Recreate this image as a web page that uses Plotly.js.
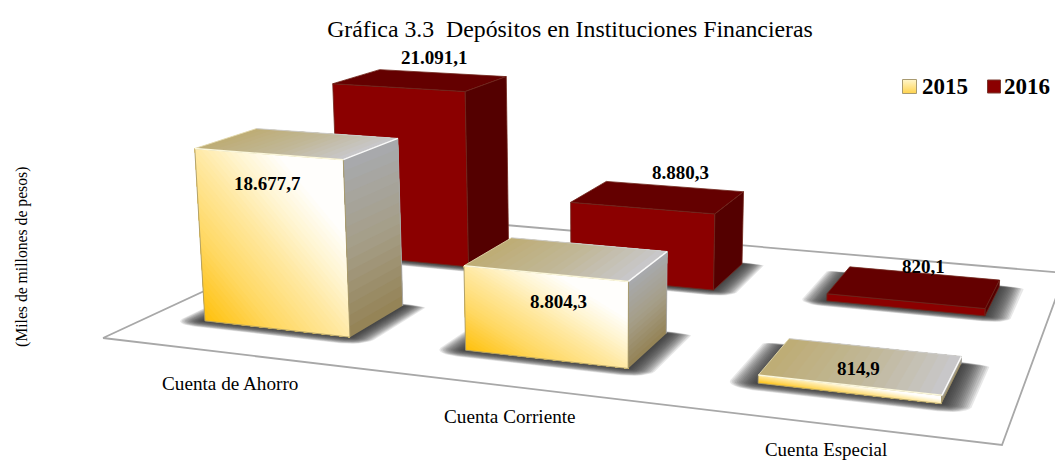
<!DOCTYPE html>
<html>
<head>
<meta charset="utf-8">
<script src="https://cdn.plot.ly/plotly-3.0.1.min.js"></script>
<style>html,body{margin:0;padding:0;background:#fff;overflow:hidden}</style>
</head>
<body>
<div id="chart" style="width:1055px;height:462px"></div>
<script>
// ---- data ----
var categories = ['Cuenta de Ahorro', 'Cuenta Corriente', 'Cuenta Especial'];
var values2015 = [18677.7, 8804.3, 814.9];
var values2016 = [21091.1, 8880.3, 820.1];
var labels2015 = ['18.677,7', '8.804,3', '814,9'];
var labels2016 = ['21.091,1', '8.880,3', '820,1'];
var seriesNames = ['2015', '2016'];

// ---- perspective of the floor (unit square -> picture axes), fitted to the picture ----
var G = -0.16868, H = 0.31071;
var A = 729.98, B = 383.27, C = 103, D = 31.94, E = -58.16, F = 338;
var VZX = 600, VZY = 7000, K = 1.392e-6;
function project(u, v, val) {
  var t = K * val;
  var w = G * u + H * v + 1 - t;
  return [(A * u + B * v + C - t * VZX) / w, (D * u + E * v + F - t * VZY) / w];
}

var BAR_W = 0.19, BAR_D = 0.205;
var traces = [];

function rgb(c) { return 'rgb(' + c.map(Math.round).join(',') + ')'; }
function ramp(stops, p) {
  p = Math.max(0, Math.min(1, p));
  for (var i = 1; i < stops.length; i++) {
    if (p <= stops[i][0]) {
      var a = stops[i - 1], b = stops[i], f = (p - a[0]) / (b[0] - a[0]);
      return [0, 1, 2].map(function (k) { return a[1][k] + (b[1][k] - a[1][k]) * f; });
    }
  }
  return stops[stops.length - 1][1];
}
function poly(pts, fill, line, lw) {
  var xs = pts.map(function (p) { return p[0]; }), ys = pts.map(function (p) { return p[1]; });
  xs.push(xs[0]); ys.push(ys[0]);
  traces.push({ type: 'scatter', mode: 'lines', x: xs, y: ys, fill: fill ? 'toself' : 'none',
    fillcolor: fill || 'rgba(0,0,0,0)', line: { color: line || 'rgba(0,0,0,0)', width: line ? (lw || 1) : 0 },
    hoverinfo: 'skip', showlegend: false });
}
function edge(p, q, color, lw) {
  traces.push({ type: 'scatter', mode: 'lines', x: [p[0], q[0]], y: [p[1], q[1]],
    line: { color: color, width: lw }, hoverinfo: 'skip', showlegend: false });
}
// Keep the part of the unit square where al*s + be*r >= lim (half-plane clip).
function clipSquare(al, be, lim) {
  var sq = [[0, 0], [1, 0], [1, 1], [0, 1]], out = [];
  for (var i = 0; i < 4; i++) {
    var p = sq[i], q = sq[(i + 1) % 4];
    var dp = al * p[0] + be * p[1] - lim, dq = al * q[0] + be * q[1] - lim;
    if (dp >= 0) out.push(p);
    if ((dp >= 0) !== (dq >= 0)) {
      var f = dp / (dp - dq);
      out.push([p[0] + (q[0] - p[0]) * f, p[1] + (q[1] - p[1]) * f]);
    }
  }
  return out;
}
// A face painted as overlapping bands along al*s + be*r, each band drawn over the last.
function shaded(face, al, be, stops, levels) {
  for (var l = 0; l < levels; l++) {
    var lim = l / levels, pts = clipSquare(al, be, lim);
    if (pts.length < 3) continue;
    poly(pts.map(function (p) { return face(p[0], p[1]); }), rgb(ramp(stops, (l + 0.5) / levels)));
  }
}
function shadow(u0, v0) {
  var n = 16, ARC = 6;
  for (var i = n; i >= 1; i--) {
    var e = i / n, ru = 0.03 * e, rf = 0.036 * e, rb = 0.012 * e, pts = [];
    var cs = [[u0 + BAR_W, v0, 1, -1, rf], [u0 + BAR_W, v0 + BAR_D, 1, 1, rb], [u0, v0 + BAR_D, -1, 1, rb], [u0, v0, -1, -1, rf]];
    cs.forEach(function (c, idx) {
      for (var a = 0; a <= ARC; a++) {
        var th = (a / ARC) * Math.PI / 2;
        var cu = (idx % 2 === 1) ? Math.cos(th) : Math.sin(th);
        var cv = (idx % 2 === 1) ? Math.sin(th) : Math.cos(th);
        pts.push(project(c[0] + c[2] * ru * cu, c[1] + c[3] * c[4] * cv, 0));
      }
    });
    poly(pts, 'rgba(40,40,40,0.115)');
  }
}
var frontStops = [[0, [255, 192, 10]], [0.3, [255, 215, 95]], [0.6, [255, 232, 160]], [0.8, [255, 245, 210]], [1, [255, 255, 255]]];
var topStops = [[0, [190, 172, 116]], [0.5, [192, 183, 150]], [1, [200, 200, 204]]];
var sideStops = [[0, [148, 130, 84]], [0.5, [165, 158, 136]], [1, [168, 170, 174]]];

function goldBar(cat, val) {
  var u0 = (cat + 0.5) / 3 - BAR_W / 2, v0 = 0.25 - BAR_D / 2, u1 = u0 + BAR_W, v1 = v0 + BAR_D;
  shaded(function (s, r) { return project(u0 + s * BAR_W, v0, val * r); }, 1 / 1.6, 1 / 1.6, frontStops, 40);
  shaded(function (s, r) { return project(u0 + s * BAR_W, v0 + r * BAR_D, val); }, 1, 0, topStops, 16);
  shaded(function (s, r) { return project(u1, v0 + s * BAR_D, val * r); }, 0, 1, sideStops, 16);
  poly([project(u0, v0, 0), project(u1, v0, 0), project(u1, v0, val), project(u0, v0, val)], null, 'rgba(170,155,105,0.9)', 1);
  edge(project(u0, v0, val), project(u0, v1, val), 'rgba(225,215,170,0.9)', 1);
  edge(project(u0, v1, val), project(u1, v1, val), 'rgba(205,205,205,0.9)', 1);
  edge(project(u1, v1, val), project(u1, v1, 0), 'rgba(170,170,170,0.9)', 1);
  edge(project(u0, v0, val), project(u1, v0, val), 'rgba(255,252,225,0.95)', 1.5);
  edge(project(u1, v0, val), project(u1, v1, val), 'rgba(255,255,255,0.95)', 1.5);
}
function redBar(cat, val) {
  var u0 = (cat + 0.5) / 3 - BAR_W / 2, v0 = 0.75 - BAR_D / 2, u1 = u0 + BAR_W, v1 = v0 + BAR_D;
  var ln = 'rgb(112,38,28)';
  poly([project(u0, v0, 0), project(u1, v0, 0), project(u1, v0, val), project(u0, v0, val)], 'rgb(139,0,0)', ln, 0.8);
  poly([project(u0, v0, val), project(u1, v0, val), project(u1, v1, val), project(u0, v1, val)], 'rgb(100,0,0)', ln, 0.8);
  poly([project(u1, v0, 0), project(u1, v1, 0), project(u1, v1, val), project(u1, v0, val)], 'rgb(84,0,0)', ln, 0.8);
}

// floor
poly([project(0, 0, 0), project(1, 0, 0), project(1, 1, 0), project(0, 1, 0)], '#ffffff', '#A8A8A8', 1.8);
// back row (2016), then front row (2015)
categories.forEach(function (c, i) { shadow((i + 0.5) / 3 - BAR_W / 2, 0.75 - BAR_D / 2); });
categories.forEach(function (c, i) { redBar(i, values2016[i]); });
categories.forEach(function (c, i) { shadow((i + 0.5) / 3 - BAR_W / 2, 0.25 - BAR_D / 2); });
categories.forEach(function (c, i) { goldBar(i, values2015[i]); });

// legend swatches
traces.push({ type: 'scatter', mode: 'markers', x: [909.5], y: [86.5], name: seriesNames[0], hoverinfo: 'skip', showlegend: false,
  marker: { symbol: 'square', size: 14, color: '#FFF6CC', gradient: { type: 'vertical', color: '#FFD34D' }, line: { color: '#A89A70', width: 1 } } });
traces.push({ type: 'scatter', mode: 'markers', x: [994], y: [86.5], name: seriesNames[1], hoverinfo: 'skip', showlegend: false,
  marker: { symbol: 'square', size: 13, color: '#8B0000', line: { color: '#7A3A30', width: 1 } } });

var serif = 'Liberation Serif, Times New Roman, serif';
function note(x, y, text, size, bold, extra) {
  var a = { xref: 'x', yref: 'y', x: x, y: y, text: bold ? '<b>' + text + '</b>' : text, showarrow: false,
    font: { family: serif, size: size, color: '#000' }, xanchor: 'center', yanchor: 'middle' };
  for (var k in extra || {}) a[k] = extra[k];
  return a;
}
var anns = [
  note(267, 183, labels2015[0], 19, true), note(558, 301, labels2015[1], 19, true), note(858, 368, labels2015[2], 19, true),
  note(434, 57, labels2016[0], 19, true), note(680, 172, labels2016[1], 19, true), note(923, 266, labels2016[2], 19, true),
  note(230, 383, categories[0], 19.2), note(510, 416, categories[1], 19.2),
  note(826, 461.5, categories[2], 18.9, false, { yanchor: 'bottom' }),
  note(944.5, 86, seriesNames[0], 23, true), note(1027, 86, seriesNames[1], 23, true),
  note(22, 257, '(Miles de millones de pesos)', 15.7, false, { textangle: -90 })
];

Plotly.newPlot('chart', traces, {
  width: 1055, height: 462, margin: { l: 0, r: 0, t: 0, b: 0, pad: 0 },
  paper_bgcolor: '#fff', plot_bgcolor: '#fff', showlegend: false,
  title: { text: 'Gráfica 3.3  Depósitos en Instituciones Financieras', font: { family: serif, size: 23.8, color: '#000' },
           x: 570 / 1055, xanchor: 'center', y: 1 - 29 / 462, yanchor: 'middle' },
  xaxis: { range: [0, 1055], visible: false, fixedrange: true },
  yaxis: { range: [462, 0], visible: false, fixedrange: true },
  annotations: anns
}, { displayModeBar: false, staticPlot: true });
</script>
</body>
</html>
